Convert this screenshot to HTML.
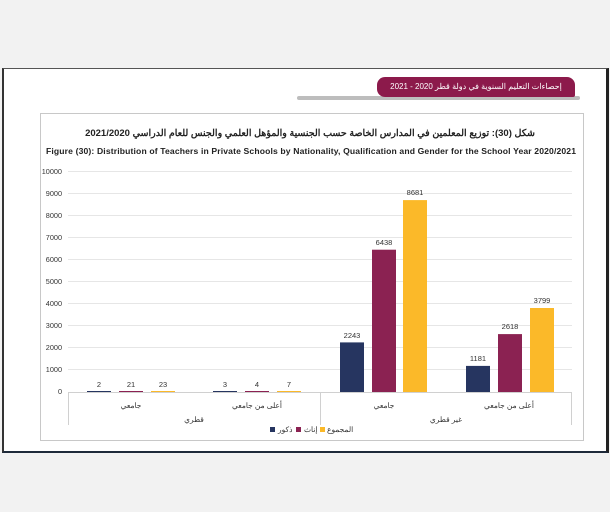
<!DOCTYPE html>
<html><head><meta charset="utf-8"><style>
body{margin:0;width:610px;height:512px;background:#f2f2f2;position:relative;overflow:hidden;font-family:"Liberation Sans","Noto Sans CJK SC",sans-serif}
.page{position:absolute;left:2px;top:68px;width:602px;height:382px;background:#fff;border-left:2px solid #333;border-right:3px solid #222;border-top:1px solid #555;border-bottom:2px solid #1e2a3a}
</style></head><body>
<div class="page"></div>
<div style="position:absolute;left:297px;top:96px;width:283px;height:4px;background:#bdbdbd;border-radius:3px"></div>
<div style="position:absolute;left:377px;top:77px;width:198px;height:20px;background:#8c1a4b;border-radius:8px 8px 2px 8px;color:#fff;font-size:8px;line-height:20px;text-align:center" dir="rtl">إحصاءات التعليم السنوية في دولة قطر 2020 - 2021</div>
<svg style="position:absolute;left:0;top:0" width="610" height="512">
<rect x="40.5" y="113.5" width="543" height="327" fill="#fff" stroke="#c8c8c8"/>
<text x="310" y="136" text-anchor="middle" font-size="9.5" font-weight="bold" fill="#222" font-family="Liberation Sans,sans-serif" direction="rtl">شكل (30): توزيع المعلمين في المدارس الخاصة حسب الجنسية والمؤهل العلمي والجنس للعام الدراسي 2021/2020</text>
<text x="311" y="154" text-anchor="middle" font-size="8.6" font-weight="bold" fill="#222" textLength="530">Figure (30): Distribution of Teachers in Private Schools by Nationality,  Qualification and Gender for the School Year 2020/2021</text>
<g font-size="7.3" fill="#333" text-anchor="end">
<text x="62" y="174">10000</text><text x="62" y="196">9000</text><text x="62" y="218">8000</text><text x="62" y="240">7000</text><text x="62" y="262">6000</text><text x="62" y="284">5000</text><text x="62" y="306">4000</text><text x="62" y="328">3000</text><text x="62" y="350">2000</text><text x="62" y="372">1000</text><text x="62" y="394">0</text>
</g>
<g stroke="#e6e6e6" stroke-width="1">
<line x1="68" x2="572" y1="171.5" y2="171.5"/><line x1="68" x2="572" y1="193.5" y2="193.5"/><line x1="68" x2="572" y1="215.5" y2="215.5"/><line x1="68" x2="572" y1="237.5" y2="237.5"/><line x1="68" x2="572" y1="259.5" y2="259.5"/><line x1="68" x2="572" y1="281.5" y2="281.5"/><line x1="68" x2="572" y1="303.5" y2="303.5"/><line x1="68" x2="572" y1="325.5" y2="325.5"/><line x1="68" x2="572" y1="347.5" y2="347.5"/><line x1="68" x2="572" y1="369.5" y2="369.5"/>
</g>
<g stroke="#d0d0d0"><line x1="68" x2="572" y1="392.5" y2="392.5"/><line x1="68.5" x2="68.5" y1="392" y2="425"/><line x1="320.5" x2="320.5" y1="392" y2="425"/><line x1="571.5" x2="571.5" y1="392" y2="425"/></g>
<g>
<rect x="87" y="391" width="24" height="1" fill="#263560"/><rect x="119" y="391" width="24" height="1" fill="#8b2252"/><rect x="151" y="391" width="24" height="1" fill="#fbb929"/>
<rect x="213" y="391" width="24" height="1" fill="#263560"/><rect x="245" y="391" width="24" height="1" fill="#8b2252"/><rect x="277" y="391" width="24" height="1" fill="#fbb929"/>
<rect x="340" y="342.4" width="24" height="49.6" fill="#263560"/><rect x="372" y="249.7" width="24" height="142.3" fill="#8b2252"/><rect x="403" y="200.1" width="24" height="191.9" fill="#fbb929"/>
<rect x="466" y="365.9" width="24" height="26.1" fill="#263560"/><rect x="498" y="334.1" width="24" height="57.9" fill="#8b2252"/><rect x="530" y="308" width="24" height="84" fill="#fbb929"/>
</g>
<g font-size="7.5" fill="#333" text-anchor="middle">
<text x="99" y="387">2</text><text x="131" y="387">21</text><text x="163" y="387">23</text>
<text x="225" y="387">3</text><text x="257" y="387">4</text><text x="289" y="387">7</text>
<text x="352" y="338">2243</text><text x="384" y="245">6438</text><text x="415" y="195">8681</text>
<text x="478" y="361">1181</text><text x="510" y="329">2618</text><text x="542" y="303">3799</text>
<text x="131" y="408">جامعي</text><text x="257" y="408">أعلى من جامعي</text><text x="384" y="408">جامعي</text><text x="509" y="408">أعلى من جامعي</text>
<text x="194" y="422">قطري</text><text x="446" y="422">غير قطري</text>
</g>
<g font-size="7.5" fill="#333">
<rect x="270" y="427" width="5" height="5" fill="#263560"/><text x="278" y="432">ذكور</text>
<rect x="296" y="427" width="5" height="5" fill="#8b2252"/><text x="304" y="432">إناث</text>
<rect x="320" y="427" width="5" height="5" fill="#fbb929"/><text x="327" y="432">المجموع</text>
</g>
</svg>
</body></html>
